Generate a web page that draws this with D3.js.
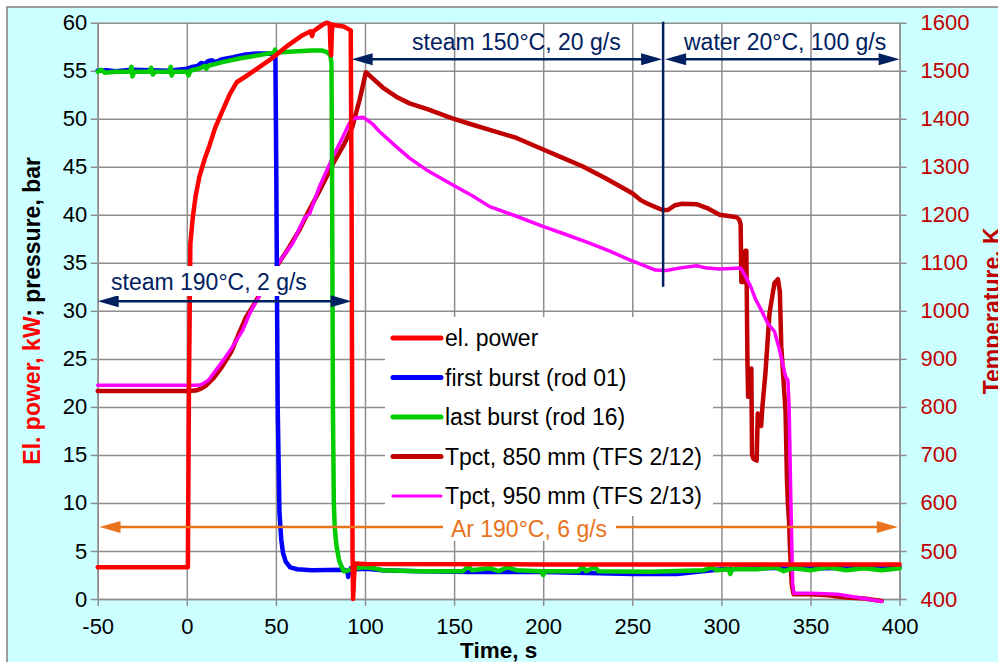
<!DOCTYPE html>
<html>
<head>
<meta charset="utf-8">
<script src="https://cdn.jsdelivr.net/npm/d3@7/dist/d3.min.js"></script>
<style>
  body { margin: 0; background: #fff; }
  svg { display: block; }
</style>
</head>
<body>
<script>
// axis ticks
const timeTicks = [-50, 0, 50, 100, 150, 200, 250, 300, 350, 400];
const leftTicks = [0, 5, 10, 15, 20, 25, 30, 35, 40, 45, 50, 55, 60];
const tempTicks = [400, 500, 600, 700, 800, 900, 1000, 1100, 1200, 1300, 1400, 1500, 1600];

const seriesNames = ["el. power", "first burst (rod 01)", "last burst (rod 16)",
  "Tpct, 850 mm (TFS 2/12)", "Tpct, 950 mm (TFS 2/13)"];

// [time s, kW]
const elPower = [[-50,3.3],[0.6,3.3],[1.2,22],[2,37],[3.4,39.8],[5,42],[7.1,44],[10,45.8],[12.7,47.2],
  [16,49.1],[20.2,50.9],[24,52.5],[28,53.8],[33,54.4],[37,54.9],[46.4,56.1],[55.8,57.5],[65,58.7],
  [69.5,59.1],[70.3,58.6],[71,59.1],[76.3,59.8],[78.5,60],[80.2,59.9],[80.6,57.5],[81,56.6],[81.5,59.4],
  [82,59.8],[84.2,59.7],[88,59.6],[92,59.2],[92.5,40],[93,5],[93.3,0],[93.8,2],[94.3,3.7],[100,3.65],
  [200,3.6],[300,3.6],[400,3.6]];

// [time s, bar]
const firstBurst = [[-50,55.0],[-45,55.05],[-40,54.95],[-31,55.1],[-20,55.05],[-10,55.0],[0,55.2],[3,55.4],
  [6,55.5],[8,55.8],[10,55.7],[12,56.0],[14,56.1],[16,55.9],[20,56.2],[26,56.4],[33,56.7],[40,56.8],[45,56.8],
  [49.7,56.7],[50.2,45],[51,20],[52,9],[53,6.2],[54,4.8],[55.5,3.9],[58,3.3],[62,3.1],[70,3.0],[88,3.05],
  [90,2.9],[90.6,2.3],[91.2,2.9],[92,3.2],[95,3.1],[100,3.15],[110,3.0],[130,2.9],[160,2.8],[200,2.8],
  [250,2.6],[275,2.6],[300,3.1],[320,3.2],[340,3.25],[360,3.2],[380,3.4],[400,3.3]];

const lastBurst = [[-50,54.9],[-48,55.1],[-46,54.8],[-40,54.9],[-32,54.9],[-31,55.4],[-30.5,54.4],[-29.5,54.9],
  [-21,54.9],[-20,55.3],[-19,54.6],[-18,54.9],[-10,54.9],[-9,55.4],[-8.5,54.5],[-7.5,54.9],[0,54.9],[1,54.5],
  [2,55.0],[8,55.3],[10,55.5],[11,55.2],[12,55.5],[20,55.9],[30,56.3],[40,56.6],[49,56.9],[49.5,57.2],[50,56.9],
  [60,57.0],[70,57.1],[76,57.1],[79,56.9],[80.5,56.6],[81.2,55.8],[81.5,45],[82,20],[82.5,10],[83,7.5],[84,5.5],
  [85.5,4],[87,3.3],[88,2.9],[90,2.95],[95,3.2],[100,3.3],[105,3.2],[110,3.0],[130,2.9],[155,2.9],[158,3.4],
  [160,3.0],[170,3.2],[175,2.9],[180,3.3],[185,3.0],[199,2.9],[200,2.5],[201,2.9],[220,2.9],[222,3.4],[224,2.9],
  [229,3.3],[231,2.9],[260,2.85],[290,3.0],[295,3.3],[297,3.0],[304,3.1],[305,2.6],[306,3.1],[320,3.1],
  [330,3.3],[335,2.9],[340,3.2],[350,3.0],[360,3.3],[370,3.0],[380,3.2],[390,3.0],[400,3.2]];

// [time s, K]
const tpct850 = [[-50,833],[0,833],[5,834],[8,838],[11,845],[15,860],[20,885],[25,915],[29.5,955],[33,985],
  [37,1009],[43,1048],[50,1090],[57,1130],[63,1167],[68,1205],[74.5,1250],[82,1306],[88,1345],[93,1384],
  [97,1440],[100.5,1497],[104,1485],[110,1465],[117.5,1446],[125,1432],[135,1420],[149,1401],[160,1388],
  [170,1377],[185,1360],[200,1336],[210,1320],[222,1301],[235,1276],[250,1245],[255,1230],[258,1224],
  [263,1216],[267,1210],[270,1210],[274,1220],[278,1223],[286,1222],[292,1214],[299,1200],[305,1197],
  [308.5,1195],[310,1190],[310.8,1180],[311.2,1060],[312.8,1060],[313.5,1125],[314,1125],[314.6,900],
  [315,821],[316,830],[316.8,880],[317.2,700],[318,692],[319.8,688],[320.4,786],[321.3,760],[322.3,760],
  [323,800],[324.7,870],[327,995],[329.8,1058],[331.7,1066],[332.8,1040],[333.6,926],[336,790],[336.8,648],
  [337.3,600],[338,560],[338.5,505],[339.5,430],[340.5,410],[350,410],[360,408],[370,403],[380,401],[390,396]];

const tpct950 = [[-50,845],[5,845],[8,846],[12,855],[16.5,877],[21,900],[25.8,926],[31.4,960],[36,1000],
  [39,1020],[42.7,1044],[46,1065],[50,1092],[54,1113],[59.5,1141],[63,1170],[66,1193],[69,1203],[74.5,1259],
  [82,1321],[87,1358],[91.3,1391],[94,1401],[98.8,1403],[101,1398],[104,1390],[108,1374],[117.5,1342],
  [125,1318],[134.3,1294],[149.3,1262],[160,1240],[170,1217],[185,1197],[199.8,1176],[212,1160],[226,1141],
  [237,1125],[248.5,1106],[256,1095],[263,1085],[269,1084],[278,1090],[286,1094],[292,1089],[299,1087],
  [305,1088],[310.8,1089],[313.7,1071],[316.5,1050],[319.3,1023],[322.3,1002],[326,974],[329.8,957],
  [332.6,919],[336,863],[337.3,856],[338,800],[339,600],[340,430],[340.7,412],[350,412],[365,410],
  [375,404],[385,398],[390,395]];

// flow phases (s) and their labels
const phaseTimes = [-50, 92.5, 267.3, 400];
const phaseLabels = ["steam 190°C, 2 g/s", "steam 150°C, 20 g/s", "water 20°C, 100 g/s"];
const argonLabel = "Ar 190°C, 6 g/s";

const FONT = '"Liberation Sans", Arial, sans-serif';
const width = 998, height = 662;
const plot = { left: 97.7, right: 899.6, top: 22.7, bottom: 599 };
const navy = "#002060", orange = "#e8731a", gridCol = "#8e8e8e";
const fmt = d => String(d);

const svg = d3.select("body").append("svg")
  .attr("width", width).attr("height", height)
  .attr("font-family", FONT);

// chart background and plot area
svg.append("rect").attr("x", 7).attr("y", 7).attr("width", width).attr("height", height)
  .attr("fill", "#ccffff").attr("stroke", "#808080").attr("stroke-width", 1.5);
svg.append("rect").attr("x", plot.left).attr("y", plot.top)
  .attr("width", plot.right - plot.left).attr("height", plot.bottom - plot.top).attr("fill", "#fff");

const x = d3.scaleLinear().domain([-50, 400]).range([plot.left, plot.right]);
const yL = d3.scaleLinear().domain([0, 60]).range([plot.bottom, plot.top]);
const yR = d3.scaleLinear().domain([400, 1600]).range([plot.bottom, plot.top]);

// gridlines
svg.append("g").attr("transform", `translate(0,${plot.bottom})`)
  .call(d3.axisBottom(x).tickValues(timeTicks).tickSize(-(plot.bottom - plot.top)).tickFormat(""))
  .call(g => g.select(".domain").remove());
svg.append("g").attr("transform", `translate(${plot.left},0)`)
  .call(d3.axisLeft(yL).tickValues(leftTicks).tickSize(-(plot.right - plot.left)).tickFormat(""))
  .call(g => g.select(".domain").remove());
svg.selectAll("g line").attr("stroke", gridCol).attr("stroke-width", 1.5);

function styleAxis(g, color) {
  g.attr("font-family", FONT).attr("font-size", 22);
  g.selectAll(".domain, line").attr("stroke", gridCol).attr("stroke-width", 1.5);
  g.selectAll("text").attr("fill", color);
}

svg.append("g").attr("transform", `translate(${plot.left},0)`)
  .call(d3.axisLeft(yL).tickValues(leftTicks).tickFormat(fmt).tickSize(7).tickPadding(3.5).tickSizeOuter(0))
  .call(g => styleAxis(g, "#000"));
svg.append("g").attr("transform", `translate(${plot.right},0)`)
  .call(d3.axisRight(yR).tickValues(tempTicks).tickFormat(fmt).tickSize(7).tickPadding(14).tickSizeOuter(0))
  .call(g => styleAxis(g, "#c00000"));
svg.append("g").attr("transform", `translate(0,${plot.bottom})`)
  .call(d3.axisBottom(x).tickValues(timeTicks).tickFormat(fmt).tickSize(7).tickPadding(12).tickSizeOuter(0))
  .call(g => styleAxis(g, "#000"));

// axis titles
svg.append("text").attr("x", (plot.left + plot.right) / 2).attr("y", 658)
  .attr("text-anchor", "middle").attr("font-size", 22.5).attr("font-weight", "bold").text("Time, s");
const lt = svg.append("text")
  .attr("transform", `translate(40,${(plot.top + plot.bottom) / 2}) rotate(-90)`)
  .attr("text-anchor", "middle").attr("font-size", 23).attr("font-weight", "bold");
lt.append("tspan").attr("fill", "#ff0000").text("El. power, kW");
lt.append("tspan").attr("fill", "#000").text("; pressure, bar");
svg.append("text")
  .attr("transform", `translate(1000,${(plot.top + plot.bottom) / 2}) rotate(-90)`)
  .attr("text-anchor", "middle").attr("font-size", 23).attr("font-weight", "bold")
  .attr("fill", "#c00000").text("Temperature, K");

// series
const lineL = d3.line().x(d => x(d[0])).y(d => yL(d[1]));
const lineR = d3.line().x(d => x(d[0])).y(d => yR(d[1]));
const series = [
  { data: tpct850, line: lineR, color: "#c00000", w: 4.5, name: seriesNames[3] },
  { data: tpct950, line: lineR, color: "#ff00ff", w: 3.5, name: seriesNames[4] },
  { data: firstBurst, line: lineL, color: "#0000ff", w: 4.5, name: seriesNames[1] },
  { data: lastBurst, line: lineL, color: "#00cc00", w: 4.5, name: seriesNames[2] },
  { data: elPower, line: lineL, color: "#ff0000", w: 4.5, name: seriesNames[0] }
];
svg.append("g").selectAll("path").data(series).join("path")
  .attr("d", s => s.line(s.data))
  .attr("fill", "none").attr("stroke", s => s.color).attr("stroke-width", s => s.w)
  .attr("stroke-linejoin", "round").attr("stroke-linecap", "round");

// legend
svg.append("rect").attr("x", 385).attr("y", 317).attr("width", 328).attr("height", 199).attr("fill", "#fff");
const legendOrder = [4, 2, 3, 0, 1];
const leg = svg.append("g").selectAll("g").data(legendOrder.map(i => series[i])).join("g")
  .attr("transform", (d, i) => `translate(0,${338 + i * 39.5})`);
leg.append("line").attr("x1", 393).attr("x2", 441)
  .attr("stroke", d => d.color).attr("stroke-width", d => d.w === 3.5 ? 3 : 5).attr("stroke-linecap", "round");
leg.append("text").attr("x", 445).attr("dy", "0.35em").attr("font-size", 23).text(d => d.name);

// annotations: arrows with heads at both ends
function arrow(x1, x2, y, color) {
  const g = svg.append("g");
  g.append("line").attr("x1", x1 + 15).attr("x2", x2 - 15).attr("y1", y).attr("y2", y)
    .attr("stroke", color).attr("stroke-width", 2.5);
  g.append("path").attr("d", `M${x1},${y}L${x1 + 21},${y - 6}L${x1 + 21},${y + 6}Z`).attr("fill", color);
  g.append("path").attr("d", `M${x2},${y}L${x2 - 21},${y - 6}L${x2 - 21},${y + 6}Z`).attr("fill", color);
}

arrow(x(phaseTimes[0]), x(phaseTimes[1]), yL(31), navy);
arrow(x(phaseTimes[1]), x(phaseTimes[2]) - 1, yL(56.2), navy);
arrow(x(phaseTimes[2]) + 2, x(phaseTimes[3]), yL(56.2), navy);
svg.append("line").attr("x1", x(phaseTimes[2])).attr("x2", x(phaseTimes[2]))
  .attr("y1", yL(60) - 1).attr("y2", yL(32.5)).attr("stroke", navy).attr("stroke-width", 2.5);

svg.append("rect").attr("x", 104).attr("y", 266).attr("width", 210).attr("height", 30).attr("fill", "#fff");
svg.append("text").attr("x", 111).attr("y", 290).attr("font-size", 23).attr("fill", navy).text(phaseLabels[0]);
svg.append("text").attr("x", 412).attr("y", 50).attr("font-size", 23).attr("fill", navy).text(phaseLabels[1]);
svg.append("text").attr("x", 684).attr("y", 50).attr("font-size", 23).attr("fill", navy).text(phaseLabels[2]);

arrow(x(-49), x(399), yL(7.5), orange);
svg.append("rect").attr("x", 443).attr("y", 516).attr("width", 173).attr("height", 25).attr("fill", "#fff");
svg.append("text").attr("x", 529).attr("y", 537).attr("text-anchor", "middle")
  .attr("font-size", 23).attr("fill", orange).text(argonLabel);
</script>
</body>
</html>
